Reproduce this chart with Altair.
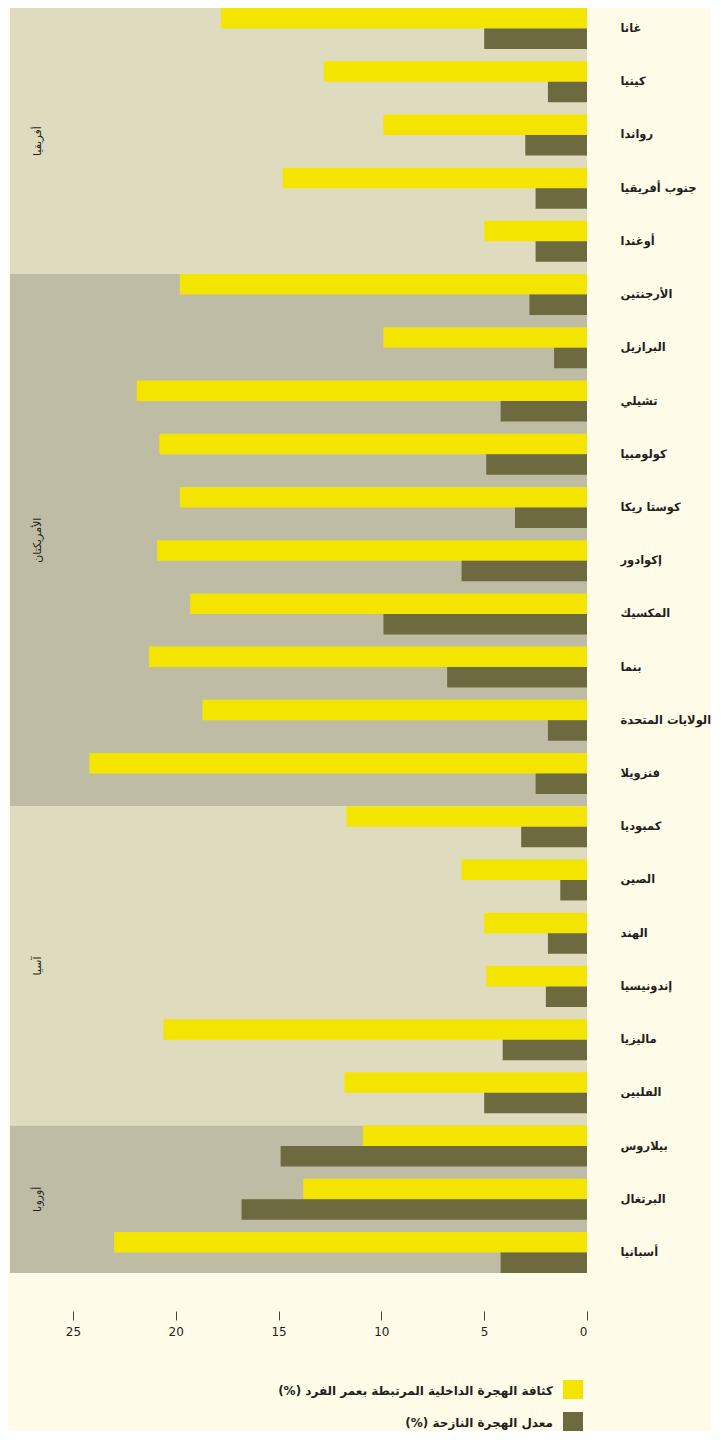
import altair as alt
import pandas as pd

countries = ["غانا", "كينيا", "رواندا", "جنوب أفريقيا", "أوغندا",
             "الأرجنتين", "البرازيل", "تشيلي", "كولومبيا", "كوستا ريكا",
             "إكوادور", "المكسيك", "بنما", "الولايات المتحدة", "فنزويلا",
             "كمبوديا", "الصين", "الهند", "إندونيسيا", "ماليزيا", "الفلبين",
             "بيلاروس", "البرتغال", "أسبانيا"]
internal = [17.8, 12.8, 9.9, 14.8, 5.0,
            19.8, 9.9, 21.9, 20.8, 19.8,
            20.9, 19.3, 21.3, 18.7, 24.2,
            11.7, 6.1, 5.0, 4.9, 20.6, 11.8,
            10.9, 13.8, 23.0]
emigration = [5.0, 1.9, 3.0, 2.5, 2.5,
              2.8, 1.6, 4.2, 4.9, 3.5,
              6.1, 9.9, 6.8, 1.9, 2.5,
              3.2, 1.3, 1.9, 2.0, 4.1, 5.0,
              14.9, 16.8, 4.2]
regions = ["أفريقيا", "الأمريكتان", "آسيا", "أوروبا"]
region_sizes = [5, 10, 6, 3]
series_labels = ["كثافة الهجرة الداخلية المرتبطة بعمر الفرد (%)\u200F",
                 "معدل الهجرة النازحة (%)\u200F"]
tick_values = [0, 5, 10, 15, 20, 25]

YELLOW = "#F4E500"
OLIVE = "#6E6A3F"
LIGHT = "#DFDBBE"
DARK = "#BFBCA5"
BG = "#FEFBE8"
TXT = "#231F20"
FONT = "DejaVu Sans"

BAR = 0.385  # fraction of a row per bar
PAIR = 2 * BAR
n = len(countries)
ymax = n - 1 + PAIR
xmax = 28.06

rows = []
for i, c in enumerate(countries):
    rows.append({"country": c, "series": "internal", "value": internal[i],
                 "yb": i, "ye": i + BAR})
    rows.append({"country": c, "series": "emig", "value": emigration[i],
                 "yb": i + BAR, "ye": i + PAIR})
bars = pd.DataFrame(rows)

reg_rows = []
start = 0
for k, (r, s) in enumerate(zip(regions, region_sizes)):
    end = start + s if k < len(regions) - 1 else ymax
    reg_rows.append({"region": r, "yb": start, "ye": end, "ym": (start + end) / 2,
                     "shade": "light" if k % 2 == 0 else "dark"})
    start += s
reg = pd.DataFrame(reg_rows)

leg = pd.DataFrame({"series": ["internal", "emig"], "label": series_labels})

xscale = alt.Scale(domain=[0, xmax], reverse=True, nice=False, zero=False)
yscale = alt.Scale(domain=[0, ymax], reverse=True, nice=False, zero=False)

label_expr = "[" + ",".join("'" + c + "'" for c in countries) + "][floor(datum.value)]"
yaxis = alt.Axis(orient="right", values=[i + BAR for i in range(n)], labelExpr=label_expr,
                 ticks=False, domain=False, grid=False, labelPadding=33,
                 labelFontSize=11.5, labelFontWeight="bold", labelColor=TXT,
                 labelAlign="left", labelBaseline="middle", labelOverlap=False,
                 labelBound=False, labelFont=FONT, title=None)
xaxis = alt.Axis(values=tick_values, offset=38, tickSize=9, tickColor="#444444", tickWidth=1,
                 domain=False, grid=False, labelFontSize=12, labelColor=TXT,
                 labelPadding=6, labelFont=FONT, title=None, format="d")


def Y(f):
    return alt.Y(f, type="quantitative", scale=yscale, axis=yaxis)


def X(f):
    return alt.X(f, type="quantitative", scale=xscale, axis=xaxis)


bg = alt.Chart(reg).mark_rect().encode(
    x=alt.value(0), x2=alt.value(577),
    y=Y("yb"), y2="ye",
    color=alt.Color("shade:N", scale=alt.Scale(domain=["light", "dark"], range=[LIGHT, DARK]),
                    legend=None),
)

barl = alt.Chart(bars).mark_rect().encode(
    x=X("value"), x2=alt.datum(0),
    y=Y("yb"), y2="ye",
    fill=alt.Fill("series:N", scale=alt.Scale(domain=["internal", "emig"], range=[YELLOW, OLIVE]),
                  legend=None),
)

reglab = alt.Chart(reg).mark_text(angle=270, fontSize=11, color=TXT, font=FONT,
                                  align="center", baseline="middle").encode(
    x=alt.value(28), y=Y("ym"), text="region:N"
)

legend_layers = []
for k, (s, col) in enumerate([("internal", YELLOW), ("emig", OLIVE)]):
    y0 = 1372 + k * 32
    sq = alt.Chart(leg).transform_filter(alt.datum.series == s).mark_rect(color=col).encode(
        x=alt.value(553), x2=alt.value(573), y=alt.value(y0), y2=alt.value(y0 + 19))
    tx = alt.Chart(leg).transform_filter(alt.datum.series == s).mark_text(
        align="right", baseline="middle", fontSize=12, fontWeight="bold", color=TXT, font=FONT
    ).encode(x=alt.value(543), y=alt.value(y0 + 11), text="label:N")
    legend_layers += [sq, tx]

chart = alt.layer(bg, barl, reglab, *legend_layers).properties(
    width=577, height=1265,
    padding={"left": 2, "top": 0, "right": 0, "bottom": 0},
    background=BG,
).configure_view(stroke=None)

chart.save("out.html", embed_options={"renderer": "svg", "actions": False})
